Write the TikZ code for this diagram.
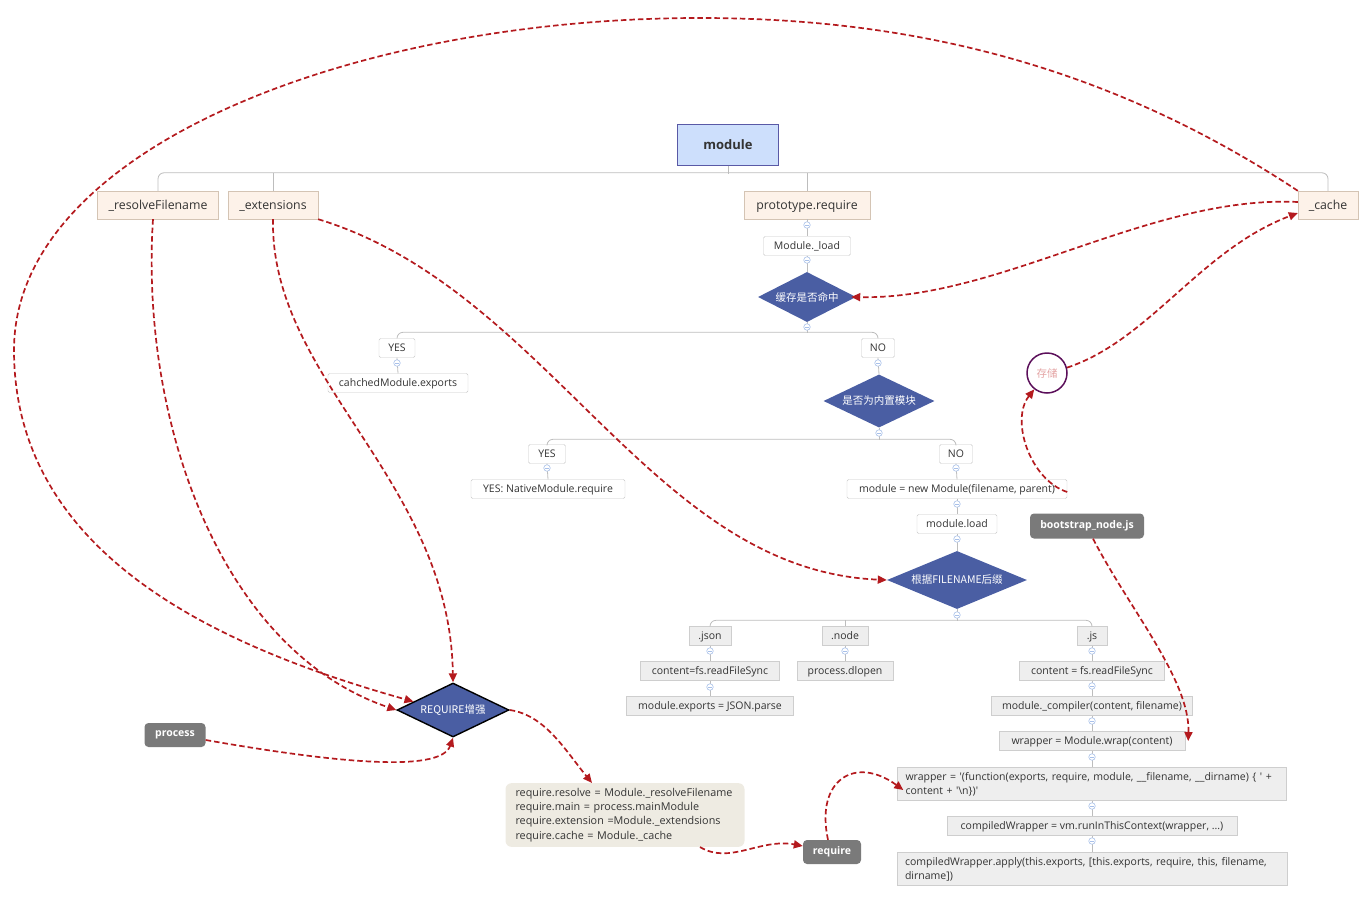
\documentclass[tikz,border=0pt]{standalone}
\usepackage{fontspec}
\setmainfont{Open Sans}
\newfontfamily\cjk{Noto Sans CJK SC}
\usetikzlibrary{shapes.geometric,arrows.meta}
\definecolor{linkred}{HTML}{B41A1E}
\definecolor{decblue}{HTML}{4A5EA3}
\definecolor{inktext}{HTML}{333333}
\definecolor{knobblue}{HTML}{A9C1EA}
\definecolor{branchgray}{HTML}{BDBDBD}
\definecolor{tagdark}{HTML}{7A7A7A}
\definecolor{storepurple}{HTML}{5B0F5A}
\tikzset{
  basefont/.style={font=\fontsize{10.5}{13}\selectfont, text=inktext},
  oneline/.style={text height=9.5, text depth=2},
  headbox/.style={draw=gray!70!blue, fill={rgb,255:red,205;green,223;blue,252}, inner sep=0,
    font=\fontsize{13}{15}\selectfont\bfseries, text=inktext},
  topbox/.style={font=\fontsize{12.3}{14}\selectfont, text=inktext, text height=11, text depth=2.5,
    draw={rgb,255:red,212;green,196;blue,180}, fill={rgb,255:red,253;green,242;blue,233},
    inner sep=0, minimum height=28},
  plainbox/.style={basefont, oneline, draw={rgb,255:red,200;green,200;blue,200}, fill=white, rounded corners=1.5,
    inner sep=0, minimum height=19},
  graybox/.style={basefont, oneline, draw={rgb,255:red,206;green,206;blue,206}, fill={rgb,255:red,238;green,238;blue,238},
    inner sep=0, minimum height=19},
  decision/.style={diamond, fill=decblue, inner sep=0, aspect=2.4, text=white,
    font=\cjk\fontsize{10.5}{12}\selectfont},
  tag/.style={rounded corners=4, fill=tagdark, text=white, inner sep=0, minimum height=24,
    font=\fontsize{10.5}{12}\selectfont\bfseries},
  note/.style={basefont, rounded corners=6, fill={rgb,255:red,238;green,235;blue,226},
    inner xsep=10, inner ysep=5, text width=219, align=left, font=\fontsize{10.8}{14.3}\selectfont},
  store/.style={circle, draw=storepurple, line width=1.5, fill=white, minimum size=40, inner sep=0,
    text={rgb,255:red,228;green,163;blue,163}, font=\cjk\fontsize{10.5}{12}\selectfont},
  knob/.style={circle, draw=knobblue, fill=white, line width=0.6, minimum size=6.5, inner sep=0,
    path picture={\draw[knobblue, line width=0.6] ([xshift=-1.6]path picture bounding box.center)
      -- ([xshift=1.6]path picture bounding box.center);}},
  branch/.style={draw=branchgray, line width=0.8},
  link/.style={draw=linkred, line width=1.7, dash pattern=on 5.5pt off 3pt,
    -{Triangle[length=9,width=8]}},
}
\begin{document}
\begin{tikzpicture}[x=1pt,y=-1pt]
\useasboundingbox (0,0) rectangle (1366,897);

% tree
\node[headbox, minimum width=101, minimum height=41] (module) at (728,145) {module};
\node[topbox, minimum width=121] (resolve) at (158,205) {\_resolveFilename};
\node[topbox, minimum width=90] (ext) at (273,205) {\_extensions};
\node[topbox, minimum width=126] (proto) at (807,205) {prototype.require};
\node[topbox, minimum width=60] (cache) at (1328,205) {\_cache};

\node[plainbox, minimum width=87] (load) at (807,246) {Module.\_load};
\node[decision, minimum width=98, minimum height=50] (hit) at (807,297) {缓存是否命中};
\node[plainbox, minimum width=36] (yesA) at (397,348) {YES};
\node[plainbox, minimum width=140] (cached) at (398,383) {cahchedModule.exports};
\node[plainbox, minimum width=33] (noA) at (878,348) {NO};
\node[decision, minimum width=111, minimum height=53] (builtin) at (879,401) {是否为内置模块};
\node[plainbox, minimum width=37] (yesB) at (547,454) {YES};
\node[plainbox, minimum width=154] (native) at (548,489) {YES: NativeModule.require};
\node[plainbox, minimum width=33] (noB) at (956,454) {NO};
\node[plainbox, minimum width=220] (newmod) at (957,489) {module = new Module(filename, parent)};
\node[plainbox, minimum width=80] (modload) at (957,524) {module.load};
\node[decision, minimum width=140, minimum height=58] (suffix) at (957,580) {根据FILENAME后缀};

\node[graybox, minimum width=42] (json) at (710,636) {.json};
\node[graybox, minimum width=139] (jsonread) at (710,671) {content=fs.readFileSync};
\node[graybox, minimum width=167] (jsonparse) at (710,706) {module.exports = JSON.parse};
\node[graybox, minimum width=46] (dotnode) at (845,636) {.node};
\node[graybox, minimum width=96] (dlopen) at (845,671) {process.dlopen};
\node[graybox, minimum width=30] (js) at (1092,636) {.js};
\node[graybox, minimum width=145] (jsread) at (1092,671) {content = fs.readFileSync};
\node[graybox, minimum width=201] (compile) at (1092,706) {module.\_compiler(content, filename)};
\node[graybox, minimum width=186] (wrap) at (1092,741) {wrapper = Module.wrap(content)};
\node[graybox, text height=, text depth=, minimum height=33, inner xsep=8, text width=373, align=left, font=\fontsize{10.5}{14}\selectfont]
  (wrapper) at (1092,784) {wrapper = \textquotesingle(function(exports, require, module, \_\_filename, \_\_dirname) \{ \textquotesingle\ +\\content + \textquotesingle\textbackslash n\})\textquotesingle};
\node[graybox, minimum width=290] (runctx) at (1092,826) {compiledWrapper = vm.runInThisContext(wrapper, ...)};
\node[graybox, text height=, text depth=, minimum height=33, inner xsep=8, text width=374, align=left, font=\fontsize{10.5}{14}\selectfont]
  (apply) at (1092,869) {compiledWrapper.apply(this.exports, [this.exports, require, this, filename,\\dirname])};

% loose nodes
\node[store] (store) at (1047,373) {存储};
\node[tag, minimum width=114, minimum height=25] (boot) at (1087,526) {bootstrap\_node.js};
\node[decision, draw=black, line width=1.4, minimum width=112, minimum height=54] (enhance) at (453,710) {REQUIRE增强};
\node[tag, minimum width=61] (process) at (175,735) {process};
\node[note] (reqnote) at (625,815) {require.resolve = Module.\_resolveFilename\\require.main = process.mainModule\\require.extension =Module.\_extendsions\\require.cache = Module.\_cache};
\node[tag, minimum width=58] (req) at (832,852) {require};

% tree branches
\draw[branch] (module.south) -- ++(0,8);
\draw[branch, rounded corners=6] (resolve.north) -- ++(0,-18) -| (cache.north);
\draw[branch, rounded corners=6] (ext.north) -- ++(0,-18);
\draw[branch, rounded corners=6] (proto.north) -- ++(0,-18);
\draw[branch] (proto.south) -- (load.north);
\draw[branch] (load.south) -- (hit.north);
\draw[branch] (hit.south) -- ++(0,11);
\draw[branch, rounded corners=6] (yesA.north) -- ++(0,-6) -| (noA.north);
\draw[branch] (yesA.south) -- (cached.north);
\draw[branch] (noA.south) -- (builtin.north);
\draw[branch] (builtin.south) -- ++(0,12);
\draw[branch, rounded corners=6] (yesB.north) -- ++(0,-5) -| (noB.north);
\draw[branch] (yesB.south) -- (native.north);
\draw[branch] (noB.south) -- (newmod.north);
\draw[branch] (newmod.south) -- (modload.north);
\draw[branch] (modload.south) -- (suffix.north);
\draw[branch] (suffix.south) -- ++(0,12);
\draw[branch, rounded corners=6] (json.north) -- ++(0,-6) -| (js.north);
\draw[branch, rounded corners=6] (dotnode.north) -- ++(0,-6);
\draw[branch] (json.south) -- (jsonread.north);
\draw[branch] (jsonread.south) -- (jsonparse.north);
\draw[branch] (dotnode.south) -- (dlopen.north);
\draw[branch] (js.south) -- (jsread.north);
\draw[branch] (jsread.south) -- (compile.north);
\draw[branch] (compile.south) -- (wrap.north);
\draw[branch] (wrap.south) -- (wrapper.north);
\draw[branch] (wrapper.south) -- (runctx.north);
\draw[branch] (runctx.south) -- (apply.north);

\foreach \p in {(807,225),(807,260),(807,327),(397,363),(878,363),(879,433),(547,468),(956,468),
  (957,504),(957,539),(957,615),(710,651),(710,687),(845,651),(1092,651),(1092,686),(1092,721),
  (1092,757),(1092,806),(1092,841)}
  \node[knob] at \p {};

% red links
\draw[link] (cache.north west) .. controls (1100,60) and (900,18) .. (700,18)
  .. controls (350,18) and (14,150) .. (14,350)
  .. controls (14,560) and (230,650) .. (enhance.168);
\draw[link] ([xshift=-5]resolve.south) .. controls (140,420) and (220,650) .. (enhance.west);
\draw[link] (ext.south) .. controls (270,380) and (450,480) .. (enhance.north);
\draw[link] (ext.south east) .. controls (550,290) and (650,570) .. (suffix.west);
\draw[link] ([yshift=3]cache.west) .. controls (1150,195) and (1000,300) .. ([xshift=-5]hit.east);
\draw[link] (store.15) .. controls (1150,340) and (1200,250) .. ([yshift=-8]cache.west);
\draw[link] ([yshift=-3]newmod.east) .. controls (1030,480) and (1010,420) .. (store.232);
\draw[link] ([xshift=6]boot.south) .. controls (1130,610) and (1190,680) .. ([xshift=3]wrap.east);
\draw[link] (enhance.east) .. controls (545,715) and (565,750) .. ([xshift=-33]reqnote.north);
\draw[link] ([yshift=-5]process.east) .. controls (320,760) and (440,775) .. (enhance.south);
\draw[link] ([xshift=75]reqnote.south) .. controls (730,865) and (760,838) .. ([yshift=6]req.west);
\draw[link] ([xshift=-4]req.north) .. controls (815,780) and (855,755) .. ([xshift=6,yshift=-6]wrapper.west);
\end{tikzpicture}
\end{document}
